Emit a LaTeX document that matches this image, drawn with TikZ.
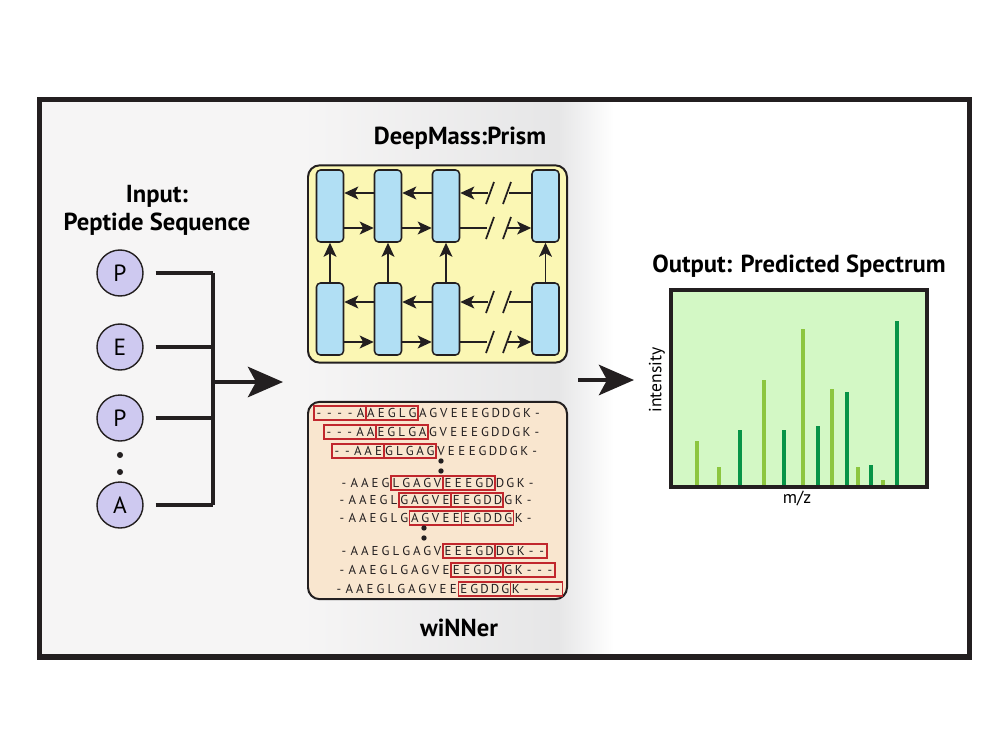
\documentclass[tikz,border=0pt]{standalone}
\usepackage{fontspec}
\setmainfont{PT Sans}
\usetikzlibrary{arrows.meta,positioning}
\definecolor{linedark}{HTML}{231F20}
\definecolor{bgleft}{HTML}{F6F5F5}
\definecolor{bgmid}{HTML}{E6E6E7}
\definecolor{prismyellow}{HTML}{FBF7B4}
\definecolor{cellblue}{HTML}{B1DFF4}
\definecolor{winbeige}{HTML}{F9E6CF}
\definecolor{winred}{HTML}{C1272D}
\definecolor{aalilac}{HTML}{CEC9F0}
\definecolor{specgreen}{HTML}{D3F8C5}
\definecolor{peaklight}{HTML}{8CC63F}
\definecolor{peakdark}{HTML}{079447}
\begin{document}
\begin{tikzpicture}[x=0.03cm,y=-0.03cm,
    title/.style={font=\fontsize{21}{24}\selectfont\bfseries, align=center, text=black},
    aacircle/.style={circle, draw=linedark, line width=1.2pt, fill=aalilac, minimum size=1.38cm, inner sep=0pt, font=\fontsize{20}{20}\selectfont, text height=14pt, text depth=0pt},
    busline/.style={draw=linedark, line width=3pt},
    bigarrow/.style={draw=linedark, line width=3pt, -{Stealth[length=30pt,width=26pt,inset=7pt]}},
    panel/.style={draw=linedark, line width=1.7pt, rounded corners=10pt, minimum width=7.77cm, minimum height=5.92cm},
    cellbox/.style={draw=linedark, line width=1.3pt, fill=cellblue, rounded corners=3.4pt, minimum width=0.81cm, minimum height=2.16cm, inner sep=0pt},
    netline/.style={draw=linedark, line width=1.5pt},
    netarrow/.style={netline, -{Stealth[length=12pt,width=11pt,inset=3pt]}},
    seqchar/.style={font=\fontsize{11}{11}\selectfont, text=linedark, inner sep=0pt, text height=7.5pt, text depth=0pt},
    winbox/.style={draw=winred, line width=1.5pt},
    axislabel/.style={font=\fontsize{15}{15}\selectfont, text=black}]
    % Define dimensions
    \def\chsp{10.4}
    \useasboundingbox (0,0) rectangle (1000,750);
    \fill[white] (0,0) rectangle (1000,750);
    % Draw background of the frame
    \fill[bgleft] (42,102) rectangle (300,654);
    \shade[left color=bgleft, right color=bgmid] (300,102) rectangle (558,654);
    \shade[left color=bgmid, right color=white] (558,102) rectangle (614,654);
    \draw[linedark, line width=4.3pt] (39.5,99.5) rectangle (969.5,657);

    % Input: peptide sequence
    \node[title] (inlabel) at (157,210) {Input:\\Peptide Sequence};
    \foreach \i/\y/\aa in {1/273/P,2/347/E,3/418/P,4/505/A} {
        \node[aacircle] (in\i) at (120,\y) {\aa};
        \coordinate (bus\i) at (213,\y);
        \draw[busline, shorten <=0.36cm] (in\i.east) -- (bus\i);
    }
    \fill[linedark] (120,455) circle (2.6pt) (120,472) circle (2.6pt);
    \draw[busline] (bus1) -- (bus4);
    \coordinate (busmid) at (213,382);
    \coordinate (tip1) at (283,382);
    \draw[bigarrow] (busmid) -- (tip1);

    % DeepMass:Prism network
    \node[title] (prismlabel) at (460,138) {DeepMass:Prism};
    \node[panel, fill=prismyellow] (prism) at (437.5,264) {};
    \foreach \i/\x in {1/330,2/388,3/446,4/545.5} {
        \node[cellbox] (t\i) at (\x,206) {};
        \node[cellbox] (b\i) at (\x,319) {};
        \draw[netarrow] (b\i) -- (t\i);
    }
    \foreach \r/\yl/\yr in {t/193/228,b/302/342} {
        \foreach \i/\j in {1/2,2/3} {
            \draw[netarrow] (\r\j.west |- 0,\yl) -- (\r\i.east |- 0,\yl);
            \draw[netarrow] (\r\i.east |- 0,\yr) -- (\r\j.west |- 0,\yr);
        }
        % broken links between the last two columns
        \draw[netline] (\r4.west |- 0,\yl) -- (509,\yl);
        \draw[netarrow] (488,\yl) -- (\r3.east |- 0,\yl);
        \draw[netline] (\r3.east |- 0,\yr) -- (487,\yr);
        \draw[netarrow] (508,\yr) -- (\r4.west |- 0,\yr);
        \foreach \yy in {\yl,\yr}
            \foreach \xx in {490,507}
                \draw[netline] (\xx-4,\yy+11) -- (\xx+4,\yy-11);
    }

    % wiNNer sliding windows
    \node[panel, fill=winbeige] (winner) at (437.5,500.5) {};
    \node[title] (winlabel) at (459,628) {wiNNer};
    \foreach \yy/\xx/\bx/\seq in {
        413/319/0/{-,-,-,-,A,A,E,G,L,G,A,G,V,E,E,E,G,D,D,G,K,-},
        432/329/0/{-,-,-,A,A,E,G,L,G,A,G,V,E,E,E,G,D,D,G,K,-},
        451/337/0/{-,-,A,A,E,G,L,G,A,G,V,E,E,E,G,D,D,G,K,-},
        483/344/5/{-,A,A,E,G,L,G,A,G,V,E,E,E,G,D,D,G,K,-},
        500/342/6/{-,A,A,E,G,L,G,A,G,V,E,E,E,G,D,D,G,K,-},
        518/342/7/{-,A,A,E,G,L,G,A,G,V,E,E,E,G,D,D,G,K,-},
        551/344/10/{-,A,A,E,G,L,G,A,G,V,E,E,E,G,D,D,G,K,-,-},
        570/342/11/{-,A,A,E,G,L,G,A,G,V,E,E,E,G,D,D,G,K,-,-,-},
        589/339/12/{-,A,A,E,G,L,G,A,G,V,E,E,E,G,D,D,G,K,-,-,-,-}} {
        \foreach \ch [count=\k from 0] in \seq
            \node[seqchar] (s\yy-\k) at (\xx+\k*\chsp,\yy) {\ch};
        \draw[winbox] (\xx+\bx*\chsp-\chsp/2,\yy-7) rectangle ++(5*\chsp,14);
        \draw[winbox] (\xx+\bx*\chsp+4.5*\chsp,\yy-7) rectangle ++(5*\chsp,14);
    }
    \fill[linedark] (441,461) circle (2.3pt) (441,471) circle (2.3pt);
    \fill[linedark] (424,528) circle (2.3pt) (424,538) circle (2.3pt);

    % Arrow to the output
    \coordinate (tail2) at (578,380);
    \coordinate (tip2) at (634,380);
    \draw[bigarrow] (tail2) -- (tip2);

    % Output: predicted spectrum
    \node[title] (outlabel) at (799,266) {Output: Predicted Spectrum};
    \fill[specgreen] (671,290) rectangle (927,487);
    \foreach \x/\top/\col in {697/441/peaklight,719/467/peaklight,740/430/peakdark,
        764/380/peaklight,784/430/peakdark,803/329/peaklight,818/426/peakdark,
        832/389/peaklight,847/392/peakdark,858/467/peaklight,871/465/peakdark,
        883/480/peaklight,897/321/peakdark}
        \fill[\col] (\x-2,487) rectangle (\x+2,\top);
    \draw[linedark, line width=3pt] (671,290) rectangle (927,487);
    \node[axislabel, rotate=90] (ylabel) at (657,380) {intensity};
    \node[axislabel] (xlabel) at (797,498) {m/z};
\end{tikzpicture}
\end{document}
